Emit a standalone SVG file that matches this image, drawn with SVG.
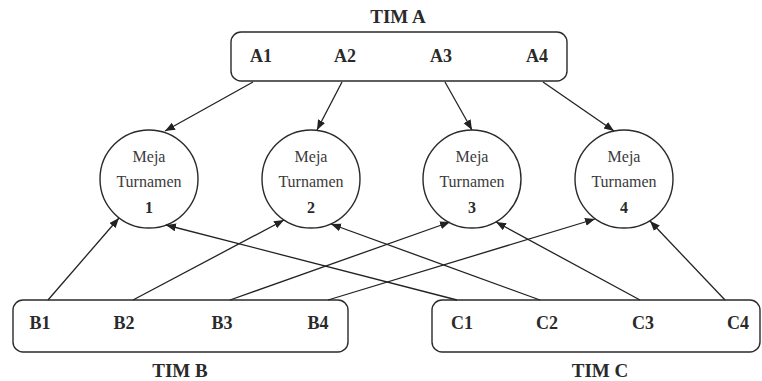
<svg xmlns="http://www.w3.org/2000/svg" width="762" height="381" viewBox="0 0 762 381">
  <style>
    .box { fill: #ffffff; stroke: #2a2a2a; stroke-width: 1.4; }
    .table { fill: #ffffff; stroke: #2a2a2a; stroke-width: 1.4; }
    .lbl { font-size: 18px; font-weight: bold; fill: #2a2a2a; }
    .ttl { font-size: 19px; font-weight: bold; fill: #2a2a2a; }
    .tx { font-size: 16px; fill: #3a3a3a; }
    .num { font-size: 16px; font-weight: bold; fill: #2a2a2a; }
    .edge { stroke: #222222; stroke-width: 1.3; fill: none; marker-end: url(#arrow); }
  </style>
  <defs>
    <marker id="arrow" markerUnits="userSpaceOnUse" markerWidth="12" markerHeight="10" refX="10" refY="4" orient="auto">
      <path d="M0,0 L10,4 L0,8 Z" fill="#222222"/>
    </marker>
  </defs>

  <rect width="762" height="381" fill="#ffffff"/>

  <g font-family="Liberation Serif, Times New Roman, serif" text-anchor="middle">
  <!-- Team A -->
  <g id="tim-a">
    <text class="ttl" x="398" y="23">TIM A</text>
    <rect class="box" x="231" y="32" width="336" height="49" rx="10"/>
    <text class="lbl" x="261" y="62">A1</text>
    <text class="lbl" x="345" y="62">A2</text>
    <text class="lbl" x="441" y="62">A3</text>
    <text class="lbl" x="537" y="62">A4</text>
  </g>

  <!-- Team B -->
  <g id="tim-b">
    <rect class="box" x="13" y="300" width="335" height="52" rx="10"/>
    <text class="lbl" x="40" y="329">B1</text>
    <text class="lbl" x="124" y="329">B2</text>
    <text class="lbl" x="222" y="329">B3</text>
    <text class="lbl" x="318" y="329">B4</text>
    <text class="ttl" x="180" y="377">TIM B</text>
  </g>

  <!-- Team C -->
  <g id="tim-c">
    <rect class="box" x="432" y="300" width="328" height="52" rx="10"/>
    <text class="lbl" x="462" y="329">C1</text>
    <text class="lbl" x="547" y="329">C2</text>
    <text class="lbl" x="643" y="329">C3</text>
    <text class="lbl" x="738" y="329">C4</text>
    <text class="ttl" x="600" y="377">TIM C</text>
  </g>

  <!-- Tournament tables -->
  <g id="meja-1">
    <circle class="table" cx="149" cy="179" r="49"/>
    <text class="tx" x="149" y="162">Meja</text>
    <text class="tx" x="149" y="187">Turnamen</text>
    <text class="num" x="149" y="213">1</text>
  </g>
  <g id="meja-2">
    <circle class="table" cx="311" cy="179" r="49"/>
    <text class="tx" x="311" y="162">Meja</text>
    <text class="tx" x="311" y="187">Turnamen</text>
    <text class="num" x="311" y="213">2</text>
  </g>
  <g id="meja-3">
    <circle class="table" cx="472" cy="179" r="49"/>
    <text class="tx" x="472" y="162">Meja</text>
    <text class="tx" x="472" y="187">Turnamen</text>
    <text class="num" x="472" y="213">3</text>
  </g>
  <g id="meja-4">
    <circle class="table" cx="624" cy="179" r="49"/>
    <text class="tx" x="624" y="162">Meja</text>
    <text class="tx" x="624" y="187">Turnamen</text>
    <text class="num" x="624" y="213">4</text>
  </g>
  </g>

  <!-- Connectors -->
  <g id="connectors">
    <line class="edge" x1="253" y1="82" x2="165" y2="131"/>
    <line class="edge" x1="342" y1="82" x2="317" y2="130"/>
    <line class="edge" x1="445" y1="82" x2="472" y2="130"/>
    <line class="edge" x1="543" y1="82" x2="614" y2="131"/>

    <line class="edge" x1="48" y1="300" x2="119" y2="218"/>
    <line class="edge" x1="133" y1="300" x2="284" y2="220"/>
    <line class="edge" x1="230" y1="300" x2="450" y2="222"/>
    <line class="edge" x1="328" y1="300" x2="595" y2="219"/>

    <line class="edge" x1="457" y1="300" x2="166" y2="225"/>
    <line class="edge" x1="540" y1="300" x2="331" y2="224"/>
    <line class="edge" x1="640" y1="300" x2="496" y2="222"/>
    <line class="edge" x1="725" y1="300" x2="650" y2="221"/>
  </g>
</svg>
